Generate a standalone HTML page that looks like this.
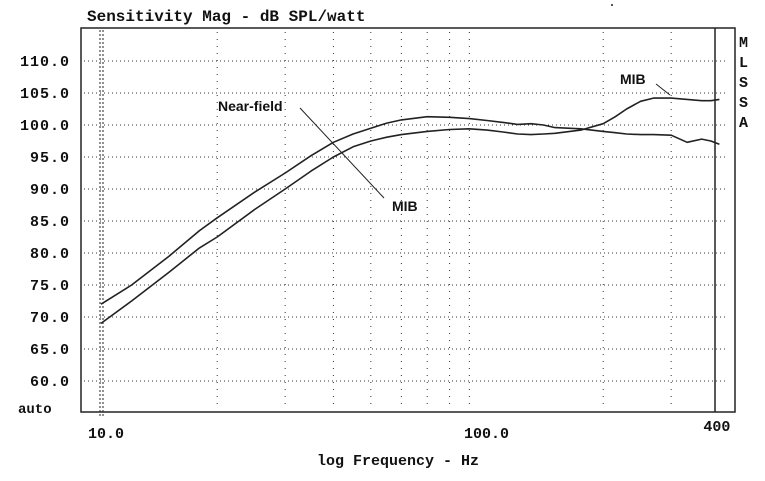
<!DOCTYPE html>
<html><head><meta charset="utf-8"><style>
body{margin:0;background:#fff;}
svg{display:block;}
text{font-family:"Liberation Mono",monospace;fill:#111;}
</style></head><body>
<svg id="chart" width="765" height="481" viewBox="0 0 765 481">
<text x="87" y="21" font-size="16" font-weight="bold">Sensitivity Mag - dB SPL/watt</text>
<rect x="81" y="28" width="654" height="384" fill="none" stroke="#222" stroke-width="1.5"/>
<g id="grid"></g><g id="ticks"></g><g id="series"></g>
<line x1="715" y1="28" x2="715" y2="412" stroke="#222" stroke-width="1.5"/>
<g font-size="15" font-weight="bold">
<text x="739" y="47">M</text><text x="739" y="67">L</text><text x="739" y="87">S</text><text x="739" y="107">S</text><text x="739" y="127">A</text></g>
<text x="218" y="111" font-size="14" font-weight="bold" style="font-family:'Liberation Sans',sans-serif">Near-field</text>
<line x1="300" y1="108" x2="384" y2="198" stroke="#222"/>
<text x="392" y="211" font-size="14" font-weight="bold" style="font-family:'Liberation Sans',sans-serif">MIB</text>
<text x="620" y="84" font-size="14" font-weight="bold" style="font-family:'Liberation Sans',sans-serif">MIB</text>
<line x1="656" y1="84" x2="670" y2="95" stroke="#222"/>
<text x="317" y="465" font-size="15" font-weight="bold">log Frequency - Hz</text>
<circle cx="612" cy="5" r="1" fill="#222"/>
</svg>
<script>
const yTicks=[110,105,100,95,90,85,80,75,70,65,60];
const xMinor=[20,30,40,50,60,70,80,90,200,300];
const xLabels=[10,100,400];
const xLabelText=["10.0","100.0","400"];
const freqs=[10,12,15,18,20,25,30,35,40,45,50,55,60,70,80,90,100,110,120,130,140,150,175,200,215,230,250,270,300,330,360,380,400];
const nearField=[72,75,79.5,83.5,85.5,89.5,92.5,95.2,97.3,98.6,99.5,100.3,100.8,101.3,101.2,101,100.7,100.4,100.1,100.2,100,99.6,99.4,99.0,98.8,98.6,98.5,98.5,98.4,97.3,97.8,97.5,97];
const mib=[69,72.5,77,80.8,82.5,86.8,90,92.8,95,96.6,97.5,98.1,98.5,99,99.3,99.4,99.2,98.9,98.6,98.5,98.6,98.7,99.2,100.2,101.3,102.5,103.7,104.2,104.2,104,103.8,103.8,104];
const sx=f=>101+386*(Math.log10(f)-1);
const sy=v=>61+(110-v)*6.4;
const NS="http://www.w3.org/2000/svg";
function mk(t,a,p){const e=document.createElementNS(NS,t);for(const k in a)e.setAttribute(k,a[k]);p.appendChild(e);return e;}
const grid=document.getElementById('grid'),ticks=document.getElementById('ticks'),series=document.getElementById('series');
yTicks.forEach(v=>{
 const l=mk('line',{x1:84,x2:728,y1:sy(v),y2:sy(v),stroke:'#333','stroke-dasharray':'1 3'},grid);
 
 
 const t=mk('text',{x:70,y:sy(v)+5,'font-size':15,'font-weight':'bold','text-anchor':'end','letter-spacing':'1'},ticks);
 t.textContent=v.toFixed(1);
 
 
});
const au=mk('text',{x:18,y:413,'font-size':14,'font-weight':'bold'},ticks);au.textContent='auto';


xMinor.forEach(f=>{
 const l=mk('line',{x1:sx(f),x2:sx(f),y1:32,y2:410,stroke:'#333','stroke-dasharray':'1 6'},grid);
 
 
});
[0,3].forEach(d=>{const l=mk('line',{x1:sx(10)+d-1,x2:sx(10)+d-1,y1:30,y2:418,stroke:'#222','stroke-dasharray':'2 2'},grid);
 
 });
xLabels.forEach((f,i)=>{
 const t=mk('text',{x:sx(f)+(i==0?-13:(i==1?-23:-16)),y:i==2?431:438,'font-size':15,'font-weight':'bold'},ticks);
 t.textContent=xLabelText[i];
 
 
});
function path(vals,name){
 const d=freqs.map((f,i)=>(i?'L':'M')+sx(f).toFixed(1)+','+sy(vals[i]).toFixed(1)).join(' ');
 const p=mk('path',{d:d,fill:'none',stroke:'#222','stroke-width':1.6,'stroke-linejoin':'round'},series);
 
 
}
path(nearField,'near-field-curve');
path(mib,'mib-curve');
</script>
</body></html>
